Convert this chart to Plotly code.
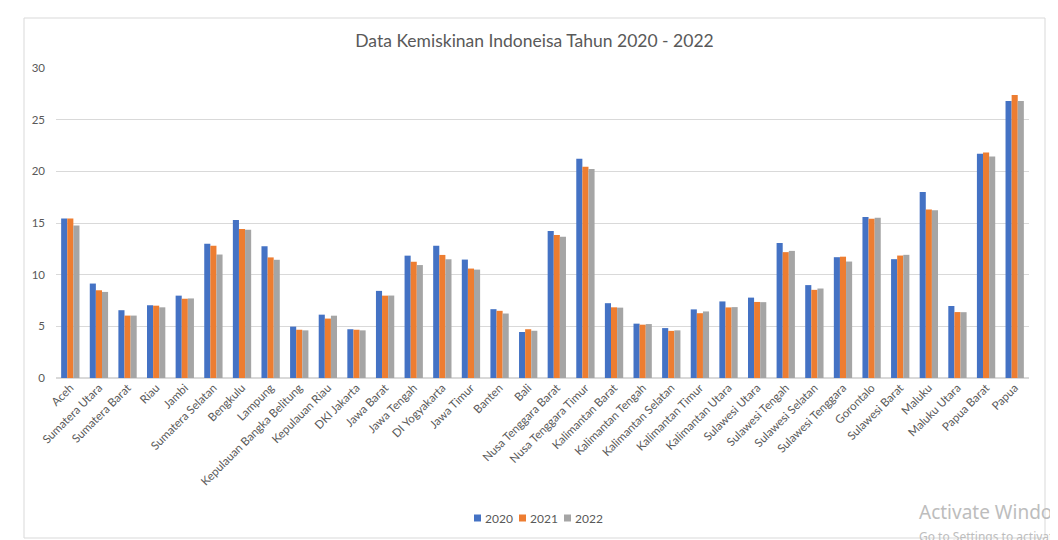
import plotly.graph_objects as go

provinces = ["Aceh", "Sumatera Utara", "Sumatera Barat", "Riau", "Jambi", "Sumatera Selatan",
             "Bengkulu", "Lampung", "Kepulauan Bangka Belitung", "Kepulauan Riau", "DKI Jakarta",
             "Jawa Barat", "Jawa Tengah", "DI Yogyakarta", "Jawa Timur", "Banten", "Bali",
             "Nusa Tenggara Barat", "Nusa Tenggara Timur", "Kalimantan Barat", "Kalimantan Tengah",
             "Kalimantan Selatan", "Kalimantan Timur", "Kalimantan Utara", "Sulawesi Utara",
             "Sulawesi Tengah", "Sulawesi Selatan", "Sulawesi Tenggara", "Gorontalo",
             "Sulawesi Barat", "Maluku", "Maluku Utara", "Papua Barat", "Papua"]

v2020 = [15.43, 9.14, 6.56, 7.04, 7.97, 12.98, 15.30, 12.76, 4.97, 6.13, 4.72, 8.43, 11.84,
         12.80, 11.46, 6.66, 4.45, 14.23, 21.21, 7.24, 5.26, 4.83, 6.64, 7.41, 7.78, 13.06,
         8.99, 11.69, 15.59, 11.50, 17.99, 6.97, 21.70, 26.80]
v2021 = [15.43, 8.49, 6.04, 7.00, 7.67, 12.79, 14.43, 11.67, 4.67, 5.75, 4.67, 7.97, 11.25,
         11.91, 10.59, 6.50, 4.72, 13.83, 20.44, 6.84, 5.16, 4.56, 6.27, 6.83, 7.36, 12.18,
         8.53, 11.74, 15.41, 11.85, 16.30, 6.38, 21.82, 27.38]
v2022 = [14.75, 8.33, 6.04, 6.84, 7.70, 11.95, 14.34, 11.44, 4.61, 6.03, 4.61, 7.98, 10.93,
         11.49, 10.49, 6.24, 4.57, 13.68, 20.23, 6.81, 5.22, 4.61, 6.44, 6.86, 7.34, 12.30,
         8.66, 11.27, 15.51, 11.92, 16.23, 6.37, 21.43, 26.80]

years = ["2020", "2021", "2022"]
colors = ["#4472C4", "#ED7D31", "#A5A5A5"]
series = [v2020, v2021, v2022]

FONT = "Lato"
GRAY = "#595959"

# page body has an 8px margin: figure is sized/offset to compensate
W, H = 1050, 532
L, R, T, B = 48, 29, 60, 162
PW, PH = W - L - R, H - T - B   # 973 x 310


def px_x(x):  # page x -> paper x
    return (x - 8 - L) / PW


def px_y(y):  # page y -> paper y
    return (H - B - (y - 8)) / PH


fig = go.Figure()
for name, vals, col in zip(years, series, colors):
    fig.add_trace(go.Bar(x=provinces, y=vals, name=name, marker_color=col,
                         marker_line_width=0))

fig.update_layout(
    width=W, height=H,
    paper_bgcolor="white", plot_bgcolor="white",
    margin=dict(l=L, r=R, t=T, b=B, autoexpand=False),
    barmode="group", bargap=0.36, bargroupgap=0.0,
    title=dict(text="Data Kemiskinan Indoneisa Tahun 2020 - 2022",
               x=(534.5 - 8) / W, xref="container", xanchor="center",
               y=1 - (41 - 8) / H, yref="container", yanchor="middle",
               font=dict(family=FONT, size=17.5, color=GRAY)),
    font=dict(family=FONT, color=GRAY),
    showlegend=False,
)

fig.update_yaxes(range=[0, 30], dtick=5, showgrid=True, gridcolor="#D9D9D9", gridwidth=1,
                 zeroline=True, zerolinecolor="#D9D9D9", showline=False,
                 tickfont=dict(family=FONT, size=11.5, color=GRAY), ticks="",
                 ticklabelstandoff=10)
fig.update_xaxes(tickangle=-45, tickfont=dict(family=FONT, size=11.5, color=GRAY),
                 showgrid=False, showline=False, ticks="")

# chart area border
fig.add_shape(type="rect", xref="paper", yref="paper",
              x0=px_x(24), x1=px_x(1045), y0=px_y(538), y1=px_y(18),
              line=dict(color="#D9D9D9", width=1), fillcolor="rgba(0,0,0,0)", layer="below")

# compact legend (Excel style): small square + label
legend_x = [474, 519, 564]
for name, col, lx in zip(years, colors, legend_x):
    fig.add_shape(type="rect", xref="paper", yref="paper",
                  x0=px_x(lx), x1=px_x(lx + 7), y0=px_y(521.5), y1=px_y(514.5),
                  line=dict(width=0), fillcolor=col)
    fig.add_annotation(text=name, xref="paper", yref="paper",
                       x=px_x(lx + 9), y=px_y(518), xanchor="left", yanchor="middle",
                       showarrow=False, xshift=0,
                       font=dict(family=FONT, size=12, color=GRAY))

fig.add_annotation(text="Activate Windows", xref="paper", yref="paper",
                   x=px_x(917), y=px_y(512), xanchor="left", yanchor="middle",
                   showarrow=False, font=dict(family="Noto Sans", size=19, color="#BDBDBD"))
fig.add_annotation(text="Go to Settings to activate Windows.", xref="paper", yref="paper",
                   x=px_x(917), y=px_y(536), xanchor="left", yanchor="middle",
                   showarrow=False, font=dict(family="Noto Sans", size=12, color="#BDBDBD"))

fig.write_html("out.html")
